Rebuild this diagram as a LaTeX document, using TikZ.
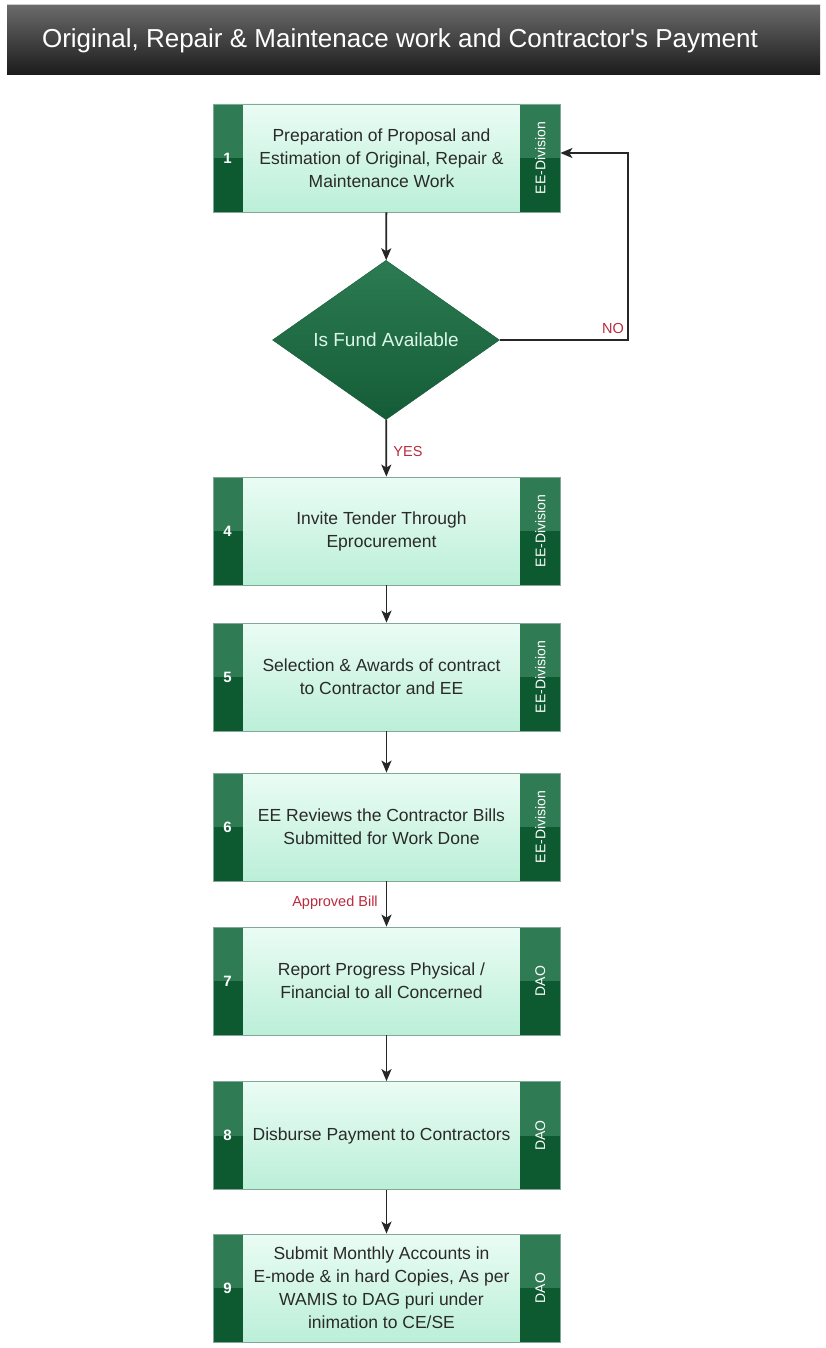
\documentclass[tikz,border=0pt]{standalone}
\usepackage{fontspec}
\setmainfont{Liberation Sans}
\usetikzlibrary{shapes.geometric,arrows.meta,calc}

\definecolor{stripL}{HTML}{2F7C54}
\definecolor{stripD}{HTML}{0D5A31}
\definecolor{mintT}{HTML}{EAFCF4}
\definecolor{mintB}{HTML}{BBEFD8}
\definecolor{edge}{HTML}{83A898}
\definecolor{diamT}{HTML}{2C7B52}
\definecolor{diamB}{HTML}{145C37}
\definecolor{diamText}{HTML}{DDF7EA}
\definecolor{redlabel}{HTML}{B92B3F}
\definecolor{ink}{HTML}{2A2A2A}
\definecolor{barT}{HTML}{6A6A6A}
\definecolor{barB}{HTML}{1B1B1B}

\tikzset{
  stepbox/.style={rectangle, minimum width=347pt, minimum height=108pt,
    inner sep=0pt, draw=edge, line width=0.8pt,
    top color=mintT, bottom color=mintB,
    path picture={
      \fill[stripL] (path picture bounding box.north west) rectangle ([xshift=30pt]path picture bounding box.west);
      \fill[stripD] (path picture bounding box.west) rectangle ([xshift=30pt]path picture bounding box.south west);
      \fill[stripL] ([xshift=-40pt]path picture bounding box.north east) rectangle (path picture bounding box.east);
      \fill[stripD] ([xshift=-40pt]path picture bounding box.east) rectangle (path picture bounding box.south east);
    }},
  bodytext/.style={align=center, inner sep=0pt, text=ink,
    font=\fontsize{17.5}{23}\selectfont},
  numtext/.style={inner sep=0pt, text=white,
    font=\fontsize{15}{18}\selectfont\bfseries},
  sidetext/.style={inner sep=0pt, text=white, rotate=90,
    font=\fontsize{14}{16}\selectfont},
  decision/.style={diamond, minimum width=227pt, minimum height=156pt,
    inner sep=0pt, top color=diamT, bottom color=diamB, draw=diamB,
    text=diamText, font=\fontsize{19}{22}\selectfont},
  flow/.style={draw=black!85, line width=1.8pt,
    -{Stealth[length=12pt,width=10pt,inset=3pt]}},
  redlab/.style={inner sep=0pt, text=redlabel,
    font=\fontsize{14.5}{16}\selectfont},
}

% one process step: name, centre y, number, description, responsible office
\newcommand\flowstep[5]{%
  \node[stepbox] (#1) at (386.5,#2) {};
  \node[numtext] (#1n) at ([xshift=15pt]#1.west) {#3};
  \node[bodytext] (#1t) at ([xshift=-5pt]#1.center) {#4};
  \node[sidetext] (#1s) at ([xshift=-20pt]#1.east) {#5};
}

\begin{document}
\begin{tikzpicture}[x=1pt,y=-1pt]
  \useasboundingbox[fill=white] (0,0) rectangle (825,1348);

  % title bar
  \node[rectangle, minimum width=813pt, minimum height=70pt, inner sep=0pt,
        top color=barT, bottom color=barB] (bar) at (413.5,40) {};
  \draw[black!20, line width=1pt] (bar.north west) -- (bar.north east);
  \node[inner sep=0pt, text=white, font=\fontsize{26}{30}\selectfont]
    (title) at (400,41) {Original, Repair \& Maintenace work and Contractor\textquotesingle s Payment};

  % steps
  \flowstep{b1}{158}{1}{Preparation of Proposal and\\Estimation of Original, Repair \&\\Maintenance Work}{EE-Division}
  \node[decision] (fund) at (386,340) {Is Fund Available};
  \flowstep{b4}{531}{4}{Invite Tender Through\\Eprocurement}{EE-Division}
  \flowstep{b5}{677}{5}{Selection \& Awards of contract\\to Contractor and EE}{EE-Division}
  \flowstep{b6}{827}{6}{EE Reviews the Contractor Bills\\Submitted for Work Done}{EE-Division}
  \flowstep{b7}{981}{7}{Report Progress Physical /\\Financial to all Concerned}{DAO}
  \flowstep{b8}{1135.5}{8}{Disburse Payment to Contractors}{DAO}
  \flowstep{b9}{1288}{9}{Submit Monthly Accounts in\\E-mode \& in hard Copies, As per\\WAMIS to DAG puri under\\inimation to CE/SE}{DAO}

  % connectors
  \coordinate (loop) at (628,153);
  \draw[flow] (b1) -- (fund);
  \draw[flow] (fund) -- (b4);
  \draw[flow] (fund.east) -| (loop) -- (b1.east |- loop);
  \draw[flow] (b4) -- (b5);
  \draw[flow] (b5) -- (b6);
  \draw[flow] (b6) -- (b7);
  \draw[flow] (b7) -- (b8);
  \draw[flow] (b8) -- (b9);

  % connector labels
  \node[redlab] (nolab) at (613,329) {NO};
  \node[redlab] (yeslab) at (408,452) {YES};
  \node[redlab] (billlab) at (335,903) {Approved Bill};
\end{tikzpicture}
\end{document}
